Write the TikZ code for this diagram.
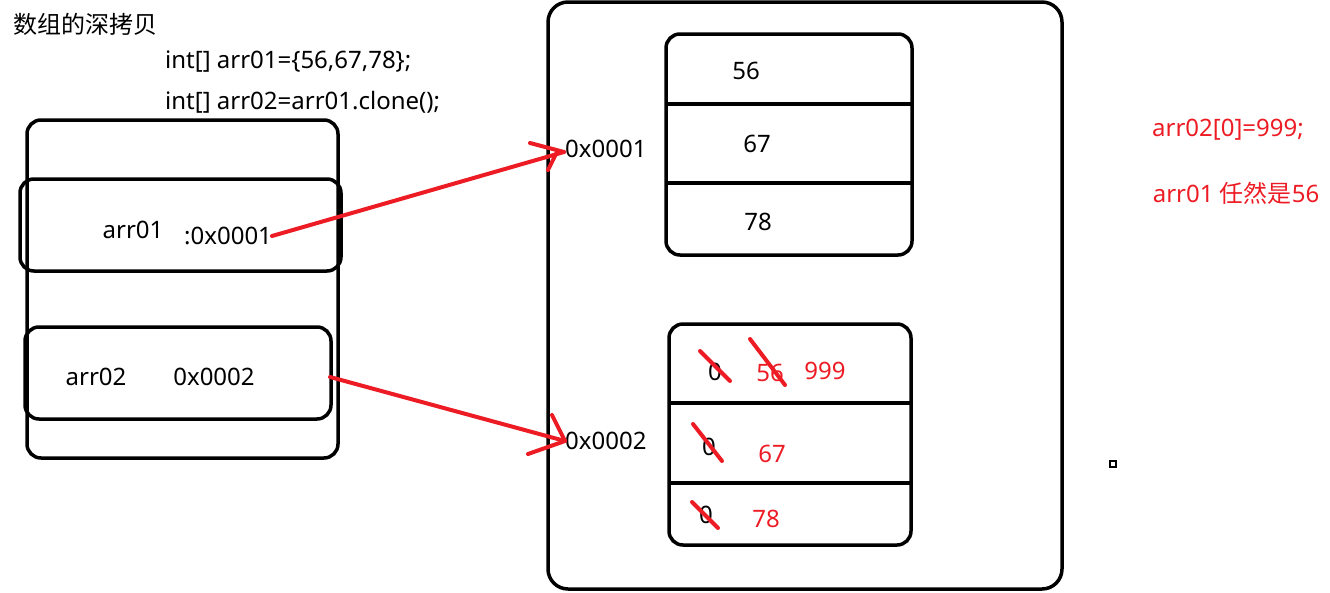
\documentclass[tikz,border=0pt]{standalone}
\usepackage{fontspec}
\setmainfont{Noto Sans}
\newfontfamily\cjk{Noto Sans CJK SC}
\definecolor{pred}{HTML}{ED1C24}
\begin{document}
\begin{tikzpicture}[x=1pt,y=-1pt,
  box/.style={draw=black,line width=3.5pt,rounded corners=14pt},
  bigbox/.style={draw=black,line width=3.5pt,rounded corners=20pt},
  div/.style={draw=black,line width=3.5pt},
  rl/.style={draw=pred,line width=4pt,line cap=round},
  txt/.style={inner sep=0pt,font=\fontsize{24}{28}\selectfont},
  rtxt/.style={txt,text=pred},
]
\useasboundingbox (0,0) rectangle (1330,592);
% stack frame
\draw[box] (27,120) rectangle (338,458);
\draw[box] (20,179) rectangle (341,271);
\draw[box] (25,327) rectangle (331,419);
% heap
\draw[bigbox] (548,2) rectangle (1062,589);
\draw[box] (666,34) rectangle (912,255);
\draw[div] (666,104) -- (912,104);
\draw[div] (666,183) -- (912,183);
\draw[box] (669,324) rectangle (911,545);
\draw[div] (669,403) -- (911,403);
\draw[div] (669,483) -- (911,483);
% texts
\node[txt,anchor=west] (title) at (13,24) {\cjk 数组的深拷贝};
\node[txt,anchor=west] (code1) at (165,62) {int[] arr01=\{56,67,78\};};
\node[txt,anchor=west] (code2) at (165,102) {int[] arr02=arr01.clone();};
\node[txt] (a01) at (133,230) {arr01};
\node[txt,anchor=west] (a01v) at (184,236) {:0x0001};
\node[txt] (a02) at (96,377) {arr02};
\node[txt] (a02v) at (214,377) {0x0002};
\node[txt,anchor=west] (h1) at (565,149) {0x0001};
\node[txt,anchor=west] (h2) at (565,441) {0x0002};
\node[txt] (v56) at (746,71) {56};
\node[txt] (v67) at (757,144) {67};
\node[txt] (v78) at (758,222) {78};
\node[txt] (z0) at (715,372) {0};
\node[rtxt] (r56) at (770,373) {56};
\node[rtxt] (r999) at (825,371) {999};
\node[txt] (z1) at (709,447) {0};
\node[rtxt] (r67) at (772,454) {67};
\node[txt] (z2) at (706,515) {0};
\node[rtxt] (r78) at (766,519) {78};
\node[rtxt] (n1) at (1228,130) {arr02[0]=999;};
\node[rtxt] (n2) at (1236,193) {arr01 {\cjk 任然是}56};
% strikes
\draw[rl] (700,351) -- (730,381);
\draw[rl] (750,339) -- (785,385);
\draw[rl] (693,424) -- (722,461);
\draw[rl] (692,502) -- (718,528);
% small square
\draw[line width=1.2pt] (1110,461) rectangle (1116,467);
% arrows
\coordinate (t1) at (564,152);
\coordinate (b1a) at (530,143);
\coordinate (b1b) at (548,170);
\draw[rl] (272,236) -- (t1);
\draw[rl] (b1a) -- (t1);
\draw[rl] (b1b) -- (557,152);
\coordinate (t2) at (565,441);
\coordinate (b2a) at (552,415);
\coordinate (b2b) at (528,454);
\draw[rl] (330,377) -- (t2);
\draw[rl] (b2a) -- (t2);
\draw[rl] (b2b) -- (t2);
\end{tikzpicture}
\end{document}
